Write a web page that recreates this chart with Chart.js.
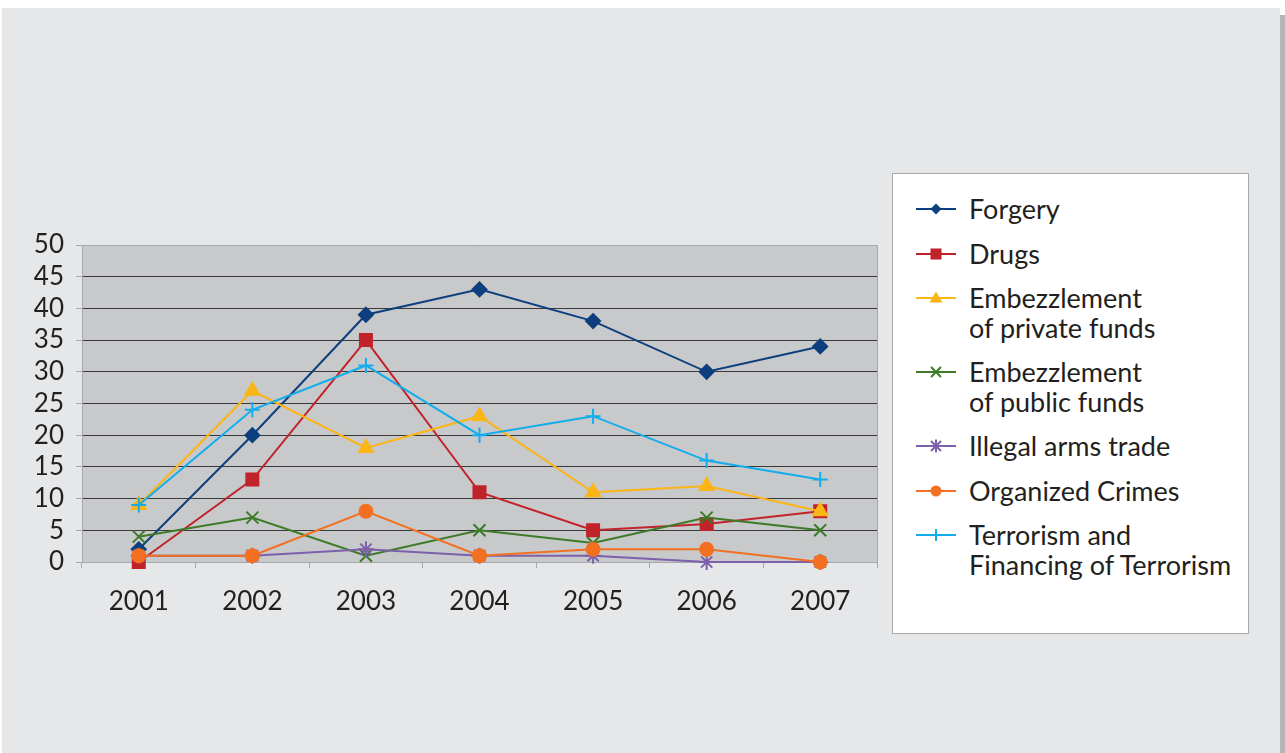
<!DOCTYPE html>
<html>
<head>
<meta charset="utf-8">
<script src="https://cdn.jsdelivr.net/npm/chart.js@4"></script>
<style>
  html, body { margin: 0; padding: 0; background: #fff; }
  body { width: 1285px; height: 753px; position: relative; overflow: hidden; font-family: Lato, "Open Sans", sans-serif; color: #231f20; }
  .panel { position: absolute; left: 2px; top: 8px; width: 1278px; height: 745px; background: #e6e7e8; }
  .shadow { position: absolute; left: 1280px; top: 15px; width: 5px; height: 738px; background: #b5b5b7; }
  #wrap { position: absolute; left: 0; top: 0; width: 1285px; height: 753px; }
  .legend { position: absolute; left: 892px; top: 173px; width: 355px; height: 459px; background: #fff; border: 1px solid #a7a8aa; box-sizing: content-box; }
  .legend ul { list-style: none; margin: 0; padding: 20px 0 0 23px; display: flex; flex-direction: column; gap: 15px; }
  .legend li { display: flex; align-items: flex-start; font-size: 27px; line-height: 29.5px; }
  .legend svg { flex: none; margin-top: 5px; margin-right: 13px; }
</style>
</head>
<body>
<div class="panel"></div>
<div class="shadow"></div>
<div id="wrap"><canvas id="chart" width="1285" height="753"></canvas></div>
<div class="legend"><ul id="legend"></ul></div>
<script>
(function () {
  "use strict";

  var years = ["2001", "2002", "2003", "2004", "2005", "2006", "2007"];
  var forgery = [2, 20, 39, 43, 38, 30, 34];
  var drugs = [0, 13, 35, 11, 5, 6, 8];
  var privateFunds = [9, 27, 18, 23, 11, 12, 8];
  var publicFunds = [4, 7, 1, 5, 3, 7, 5];
  var armsTrade = [1, 1, 2, 1, 1, 0, 0];
  var organized = [1, 1, 8, 1, 2, 2, 0];
  var terrorism = [9, 24, 31, 20, 23, 16, 13];

  var series = [
    { label: ["Forgery"], data: forgery, color: "#0d3f7e", point: "rectRot", r: 7 },
    { label: ["Drugs"], data: drugs, color: "#c1232b", point: "rect", r: 8.5 },
    { label: ["Embezzlement", "of private funds"], data: privateFunds, color: "#fbb516", point: "triangle", r: 8 },
    { label: ["Embezzlement", "of public funds"], data: publicFunds, color: "#3d7b28", point: "crossRot", r: 8.5 },
    { label: ["Illegal arms trade"], data: armsTrade, color: "#7d60aa", point: "star", r: 8 },
    { label: ["Organized Crimes"], data: organized, color: "#f37021", point: "circle", r: 6.5 },
    { label: ["Terrorism and", "Financing of Terrorism"], data: terrorism, color: "#11adec", point: "cross", r: 7.5 }
  ];

  var plotBg = {
    id: "plotBg",
    beforeDraw: function (chart) {
      var a = chart.chartArea, ctx = chart.ctx;
      ctx.save();
      ctx.fillStyle = "#c8c9cb";
      ctx.fillRect(a.left, a.top, a.right - a.left, a.bottom - a.top);
      ctx.restore();
    },
    beforeDatasetsDraw: function (chart) {
      var a = chart.chartArea, ctx = chart.ctx;
      ctx.save();
      ctx.strokeStyle = "#a7a8aa";
      ctx.lineWidth = 1;
      ctx.beginPath();
      ctx.moveTo(a.left, a.top + 0.5);
      ctx.lineTo(a.right + 0.5, a.top + 0.5);
      ctx.lineTo(a.right + 0.5, a.bottom);
      ctx.stroke();
      ctx.restore();
    }
  };

  var tickFont = { family: "Lato, 'Open Sans', sans-serif", size: 26 };

  new Chart(document.getElementById("chart"), {
    type: "line",
    data: {
      labels: years,
      datasets: series.map(function (s) {
        return {
          label: s.label.join(" "),
          data: s.data,
          borderColor: s.color,
          backgroundColor: s.color,
          pointBorderColor: s.color,
          pointBackgroundColor: s.color,
          pointStyle: s.point,
          pointRadius: s.r,
          pointBorderWidth: 2,
          borderWidth: 2,
          tension: 0,
          fill: false,
          clip: false
        };
      }).reverse()
    },
    options: {
      responsive: false,
      animation: false,
      layout: { padding: { left: 22, right: 408, top: 245, bottom: 141 } },
      plugins: { legend: { display: false }, tooltip: { enabled: false } },
      scales: {
        x: {
          offset: true,
          grid: { offset: true, drawOnChartArea: false, drawTicks: true, tickLength: 6, tickColor: "#a7a8aa" },
          border: { color: "#a7a8aa", width: 1 },
          ticks: { color: "#231f20", font: tickFont, padding: 18, maxRotation: 0, autoSkip: false },
          afterFit: function (s) { s.height = 50; }
        },
        y: {
          min: 0,
          max: 50,
          ticks: { stepSize: 5, color: "#231f20", font: tickFont, padding: 12, autoSkip: false },
          grid: { color: "#3a3a3c", lineWidth: 1, drawTicks: true, tickLength: 6, tickColor: "#a7a8aa" },
          border: { color: "#a7a8aa", width: 1 },
          afterFit: function (s) { s.width = 60; }
        }
      }
    },
    plugins: [plotBg]
  });

  function markerSvg(s) {
    var c = s.color, m = "";
    var y = 10;
    if (s.point === "rectRot") m = '<polygon points="20,4.5 25.5,10 20,15.5 14.5,10" fill="' + c + '"/>';
    else if (s.point === "rect") m = '<rect x="14.5" y="4.5" width="11" height="11" fill="' + c + '"/>';
    else if (s.point === "triangle") m = '<polygon points="20,3.5 26.5,14.5 13.5,14.5" fill="' + c + '"/>';
    else if (s.point === "crossRot") m = '<path d="M15 5 L25 15 M25 5 L15 15" stroke="' + c + '" stroke-width="2"/>';
    else if (s.point === "star") m = '<path d="M15 5 L25 15 M25 5 L15 15 M20 3.5 L20 16.5" stroke="' + c + '" stroke-width="2"/>';
    else if (s.point === "circle") m = '<circle cx="20" cy="10" r="5.5" fill="' + c + '"/>';
    else if (s.point === "cross") m = '<path d="M20 4 L20 16" stroke="' + c + '" stroke-width="2"/>';
    return '<svg width="40" height="20" viewBox="0 0 40 20"><line x1="0" y1="' + y + '" x2="40" y2="' + y + '" stroke="' + c + '" stroke-width="2"/>' + m + '</svg>';
  }

  document.getElementById("legend").innerHTML = series.map(function (s) {
    return '<li>' + markerSvg(s) + '<span>' + s.label.join("<br>") + '</span></li>';
  }).join("");
})();
</script>
</body>
</html>
